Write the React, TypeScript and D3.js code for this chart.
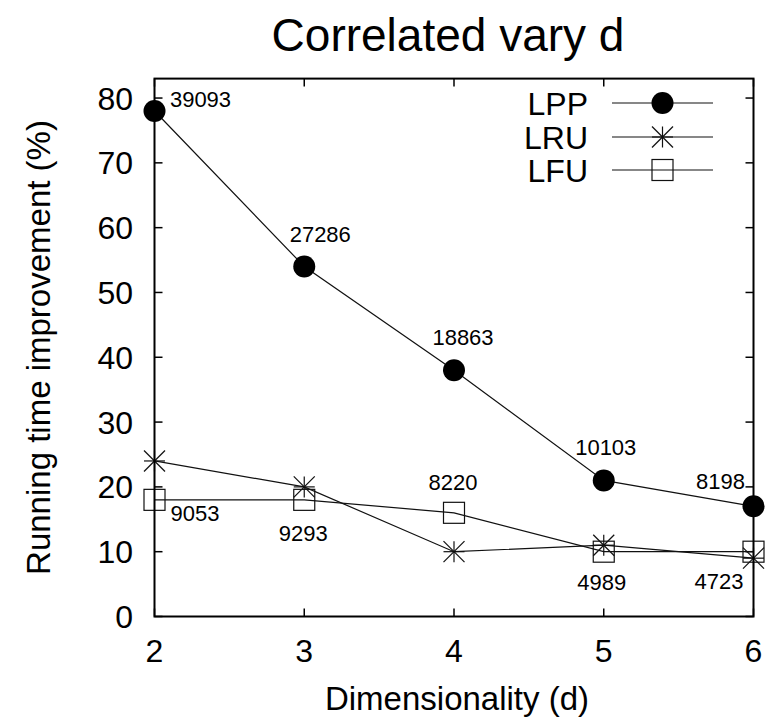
import React from "react";
import * as d3 from "d3";

const dims = [2, 3, 4, 5, 6];
const lppValues = [78, 54, 38, 21, 17];
const lruValues = [24, 20, 10, 11, 9];
const lfuValues = [18, 18, 16, 10, 10];
const lppLabels = ["39093", "27286", "18863", "10103", "8198"];
const lfuLabels = ["9053", "9293", "8220", "4989", "4723"];
const yTicks = [0, 10, 20, 30, 40, 50, 60, 70, 80];
const xTicks = [2, 3, 4, 5, 6];
const seriesNames = ["LPP", "LRU", "LFU"];

// layout offsets for value labels (pixels relative to the point)
const lppLabelOffsets = [
  [46, -12],
  [16, -32],
  [9, -33],
  [2, -33],
  [-33, -25],
];
const lfuLabelOffsets = [
  [40.5, 13],
  [-1, 33],
  [-1, -31],
  [-2, 31],
  [-34.5, 30],
];

const W = 774;
const H = 718;
const left = 154.5;
const right = 753.5;
const top = 78.6;
const bottom = 616.5;
const FONT = "'Liberation Sans', Arial, Helvetica, sans-serif";

const x = d3.scaleLinear().domain([2, 6]).range([left, right]);
const y = d3.scaleLinear().domain([0, 83]).range([bottom, top]);

function Marker({ type, cx, cy }: { type: string; cx: number; cy: number }) {
  if (type === "LPP") return <circle cx={cx} cy={cy} r={11} fill="#000" />;
  if (type === "LRU") {
    const a = 10.5;
    return (
      <g stroke="#111" strokeWidth={1.2}>
        <line x1={cx - a} y1={cy} x2={cx + a} y2={cy} />
        <line x1={cx} y1={cy - a} x2={cx} y2={cy + a} />
        <line x1={cx - a} y1={cy - a} x2={cx + a} y2={cy + a} />
        <line x1={cx - a} y1={cy + a} x2={cx + a} y2={cy - a} />
      </g>
    );
  }
  const s = 10.5;
  return <rect x={cx - s} y={cy - s} width={2 * s} height={2 * s} fill="none" stroke="#111" strokeWidth={1.2} />;
}

export default function App() {
  const line = d3
    .line<number>()
    .x((_, i) => x(dims[i]))
    .y((v) => y(v));
  const series = [
    { name: "LPP", values: lppValues },
    { name: "LRU", values: lruValues },
    { name: "LFU", values: lfuValues },
  ];
  const legendY = [103, 137, 170];
  const tickLen = 8;
  return (
    <svg
      width={W}
      height={H}
      style={{ position: "absolute", left: 0, top: 0, background: "#fff" }}
      fontFamily={FONT}
    >
      <rect width={W} height={H} fill="#fff" />
      {/* title */}
      <text x={448} y={51} fontSize={46} textAnchor="middle" fill="#000">
        Correlated vary d
      </text>
      {/* ticks */}
      <g stroke="#000" strokeWidth={1.5}>
        {yTicks.map((t) => (
          <g key={"yt" + t}>
            <line x1={left} x2={left + tickLen} y1={y(t)} y2={y(t)} />
            <line x1={right} x2={right - tickLen} y1={y(t)} y2={y(t)} />
          </g>
        ))}
        {xTicks.map((t) => (
          <g key={"xt" + t}>
            <line x1={x(t)} x2={x(t)} y1={bottom} y2={bottom - tickLen} />
            <line x1={x(t)} x2={x(t)} y1={top} y2={top + tickLen} />
          </g>
        ))}
      </g>
      {yTicks.map((t) => (
        <text key={"yl" + t} x={133} y={y(t) + 11.5} fontSize={32} textAnchor="end" fill="#000">
          {t}
        </text>
      ))}
      {xTicks.map((t) => (
        <text key={"xl" + t} x={x(t)} y={662} fontSize={32} textAnchor="middle" fill="#000">
          {t}
        </text>
      ))}
      {/* axis labels */}
      <text x={457} y={710} fontSize={33} textAnchor="middle" fill="#000">
        Dimensionality (d)
      </text>
      <text
        transform={`translate(50, 347.5) rotate(-90)`}
        fontSize={33}
        textAnchor="middle"
        fill="#000"
      >
        Running time improvement (%)
      </text>
      {/* data lines */}
      {series.map((s) => (
        <path key={"l" + s.name} d={line(s.values) || ""} fill="none" stroke="#111" strokeWidth={1.2} />
      ))}
      {series.map((s) =>
        s.values.map((v, i) => <Marker key={s.name + i} type={s.name} cx={x(dims[i])} cy={y(v)} />)
      )}
      {/* value labels */}
      {lppLabels.map((lab, i) => (
        <text
          key={"pl" + i}
          x={x(dims[i]) + lppLabelOffsets[i][0]}
          y={y(lppValues[i]) + lppLabelOffsets[i][1] + 7.8}
          fontSize={22}
          textAnchor="middle"
          fill="#000"
        >
          {lab}
        </text>
      ))}
      {lfuLabels.map((lab, i) => (
        <text
          key={"fl" + i}
          x={x(dims[i]) + lfuLabelOffsets[i][0]}
          y={y(lfuValues[i]) + lfuLabelOffsets[i][1] + 7.8}
          fontSize={22}
          textAnchor="middle"
          fill="#000"
        >
          {lab}
        </text>
      ))}
      {/* legend */}
      {seriesNames.map((n, i) => (
        <g key={"lg" + n}>
          <text x={588} y={legendY[i] + 11.5} fontSize={32} textAnchor="end" fill="#000">
            {n}
          </text>
          <line x1={612} x2={713} y1={legendY[i]} y2={legendY[i]} stroke="#111" strokeWidth={1.2} />
          <Marker type={n} cx={662.5} cy={legendY[i]} />
        </g>
      ))}
      {/* frame */}
      <rect
        x={left}
        y={top}
        width={right - left}
        height={bottom - top}
        fill="none"
        stroke="#000"
        strokeWidth={2}
      />
    </svg>
  );
}
